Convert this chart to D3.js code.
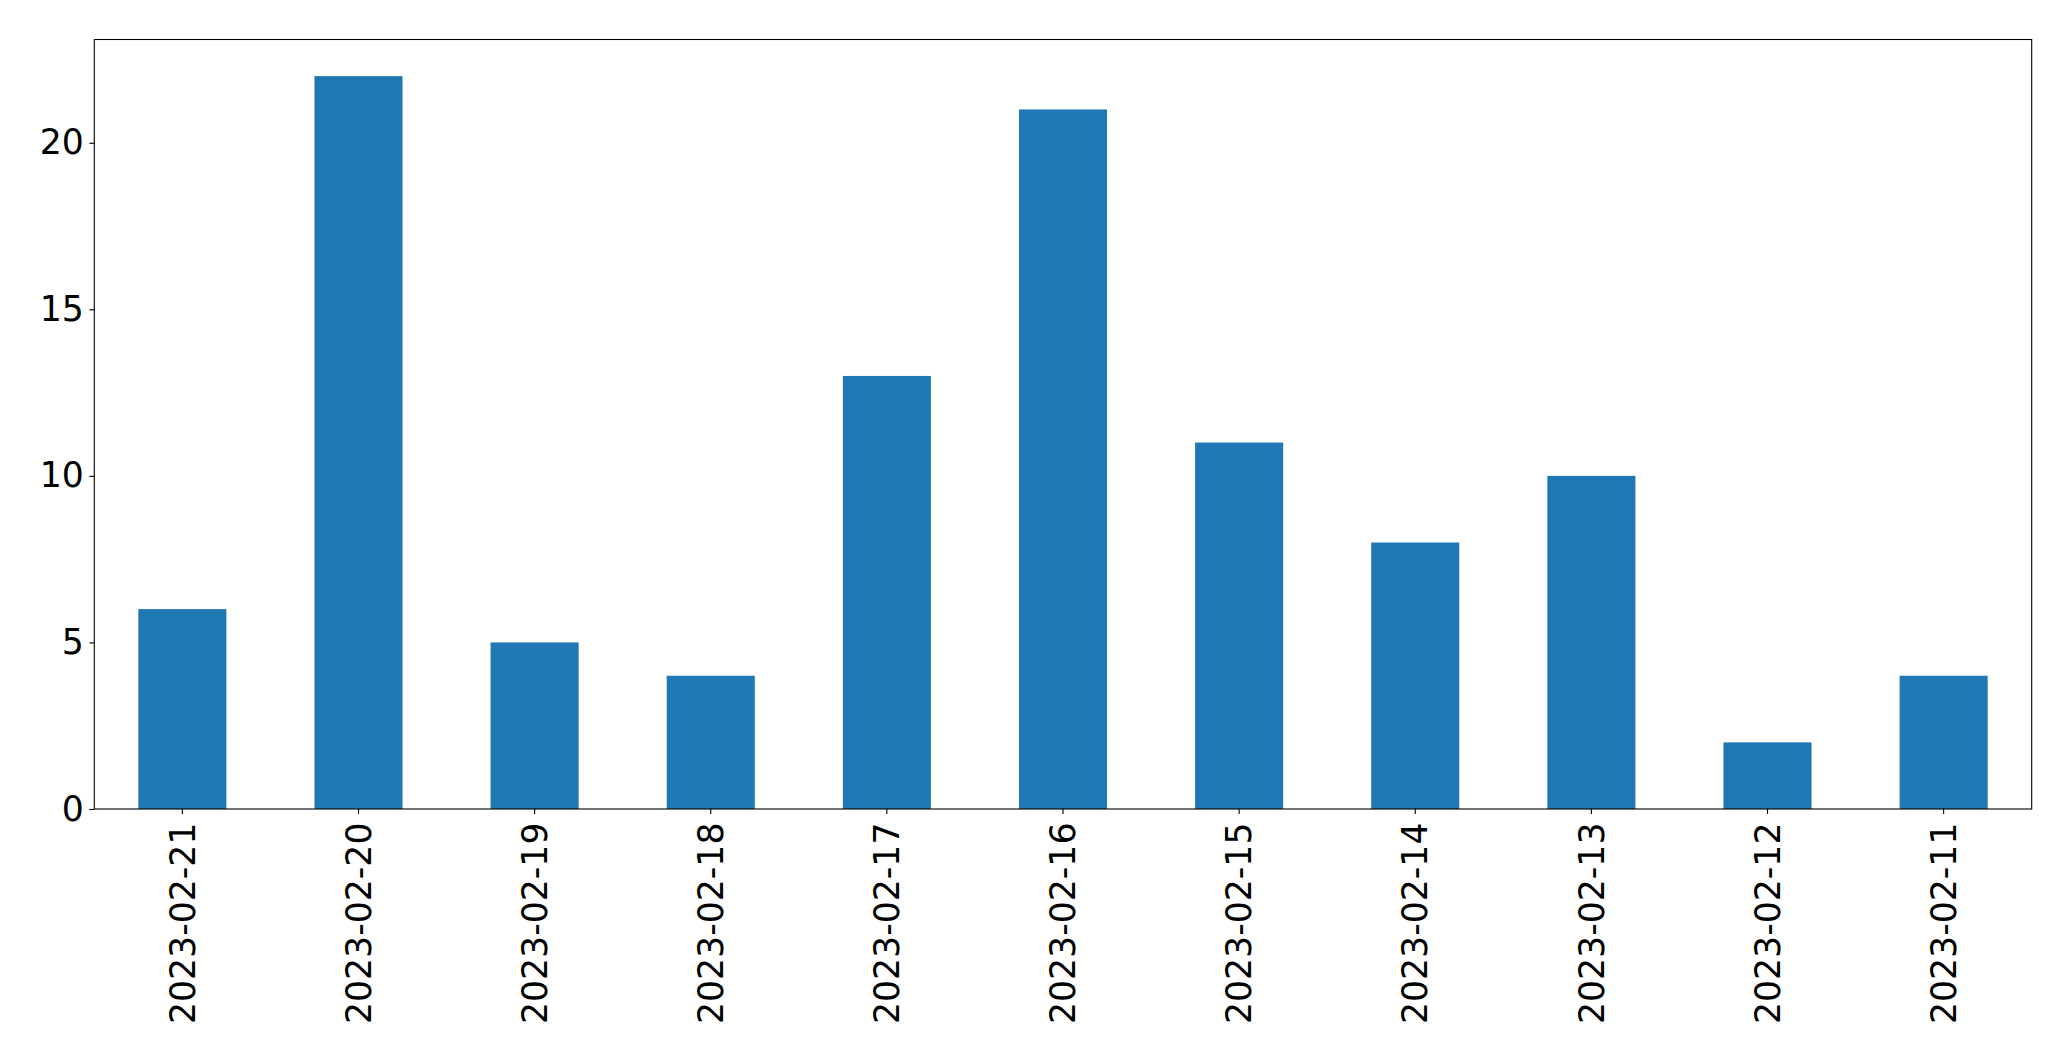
<!DOCTYPE html>
<html><head><meta charset="utf-8">
<script src="https://cdn.jsdelivr.net/npm/d3@7"></script>
<style>html,body{margin:0;padding:0;background:#fff;}</style>
</head><body>
<svg id="chart" width="2071" height="1061"></svg>
<script>
const categories = ["2023-02-21","2023-02-20","2023-02-19","2023-02-18","2023-02-17","2023-02-16","2023-02-15","2023-02-14","2023-02-13","2023-02-12","2023-02-11"];
const values = [6, 22, 5, 4, 13, 21, 11, 8, 10, 2, 4];
const yTicks = [0, 5, 10, 15, 20];

const W = 2071, H = 1061;
const m = {left: 94.3, right: 2031.7, top: 39.5, bottom: 809};
const svg = d3.select("#chart");
const font = "DejaVu Sans, sans-serif";
const fs = 34.7;

const x = d3.scaleBand().domain(categories).range([m.left, m.right]).paddingInner(0.5).paddingOuter(0.25);
const y = d3.scaleLinear().domain([0, d3.max(values) * 1.05]).range([m.bottom, m.top]);

svg.append("g").selectAll("rect").data(values).join("rect")
  .attr("x", (d, i) => x(categories[i]))
  .attr("width", x.bandwidth())
  .attr("y", d => y(d))
  .attr("height", d => y(0) - y(d))
  .attr("fill", "#1f77b4");

// frame
svg.append("rect").attr("x", m.left).attr("y", m.top)
  .attr("width", m.right - m.left).attr("height", m.bottom - m.top)
  .attr("fill", "none").attr("stroke", "#000").attr("stroke-width", 1.1);

const yAxis = d3.axisLeft(y).tickValues(yTicks).tickSize(4.9).tickPadding(5.5).tickFormat(d3.format("d"));
const gy = svg.append("g").attr("transform", `translate(${m.left},0)`).call(yAxis);
gy.select(".domain").remove();
gy.selectAll("line").attr("stroke", "#000").attr("stroke-width", 1.1);
gy.selectAll("text").attr("font-family", font).attr("font-size", fs).attr("fill", "#000");

const xAxis = d3.axisBottom(x).tickSize(4.9).tickPadding(4.9);
const gx = svg.append("g").attr("transform", `translate(0,${m.bottom})`).call(xAxis);
gx.select(".domain").remove();
gx.selectAll("line").attr("stroke", "#000").attr("stroke-width", 1.1);
gx.selectAll("text")
  .attr("font-family", font).attr("font-size", fs).attr("fill", "#000")
  .attr("text-anchor", "end").attr("dy", "0.35em")
  .attr("transform", "translate(0,13.5) rotate(-90)")
  .attr("x", 0).attr("y", 0);
</script>
</body></html>
